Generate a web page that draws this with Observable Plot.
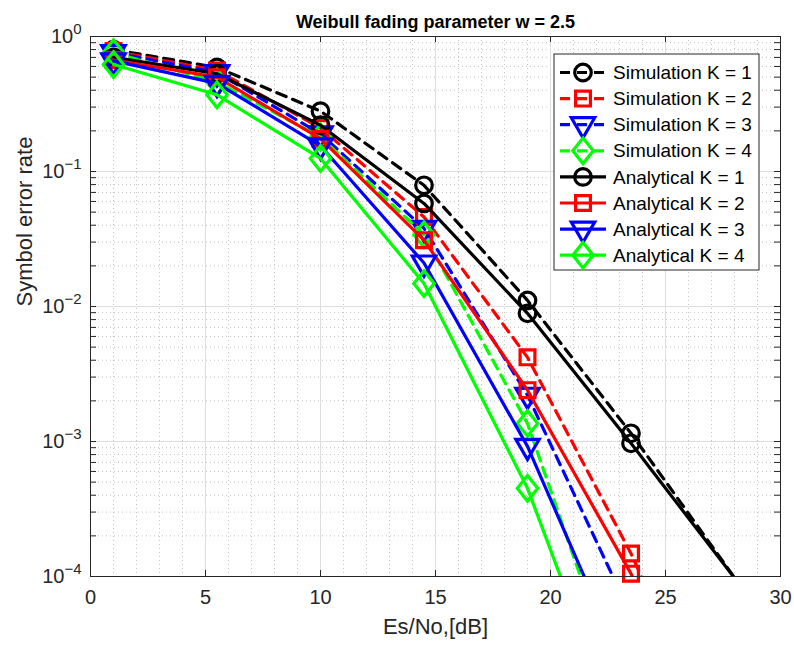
<!DOCTYPE html>
<html><head><meta charset="utf-8">
<script src="https://cdn.jsdelivr.net/npm/d3@7"></script>
<script src="https://cdn.jsdelivr.net/npm/@observablehq/plot@0.6"></script>
<style>body{margin:0;background:#fff;} #chart svg{display:block;}</style>
</head><body><div id="chart"></div>
<script>
// ---- data ----
const snr = [1, 5.5, 10, 14.5, 19, 23.5, 28];
const simK1 = [0.80, 0.59, 0.28, 0.079, 0.0111, 0.00115, 0.000098];
const simK2 = [0.78, 0.56, 0.21, 0.046, 0.0042, 0.000148, 0.000003];
const simK3 = [0.76, 0.54, 0.19, 0.038, 0.0022, 0.000052, 0.0000008];
const simK4 = [0.76, 0.46, 0.18, 0.034, 0.00136, 0.0000083, 0.0000001];
const anaK1 = [0.70, 0.53, 0.22, 0.058, 0.0089, 0.00097, 0.0000975];
const anaK2 = [0.67, 0.50, 0.175, 0.031, 0.0024, 0.000105, 0.000002];
const anaK3 = [0.66, 0.45, 0.155, 0.021, 0.00092, 0.000016, 0.0000003];
const anaK4 = [0.62, 0.37, 0.125, 0.0148, 0.00045, 0.000004, 0.00000003];
const seriesNames = ["Simulation K = 1","Simulation K = 2","Simulation K = 3","Simulation K = 4",
                     "Analytical K = 1","Analytical K = 2","Analytical K = 3","Analytical K = 4"];
const xTicks = [0, 5, 10, 15, 20, 25, 30];
const yTicks = [1e-4, 1e-3, 1e-2, 1e-1, 1];
const titleText = "Weibull fading parameter w = 2.5";
const xLabel = "Es/No,[dB]";
const yLabel = "Symbol error rate";

// ---- styling ----
const colors = ["#000000", "#ff0000", "#0000ff", "#00ff00"];
const sym = (pts) => ({draw(ctx, size) { const k = Math.sqrt(size / Math.PI);
  ctx.moveTo(pts[0][0]*k, pts[0][1]*k); for (let i = 1; i < pts.length; i++) ctx.lineTo(pts[i][0]*k, pts[i][1]*k); ctx.closePath(); }});
const symCircle = {draw(ctx, size) { const k = Math.sqrt(size / Math.PI), r = 8.3*k; ctx.moveTo(r, 0); ctx.arc(0, 0, r, 0, 2*Math.PI); }};
const symSquare = sym([[-7.4,-7.4],[7.4,-7.4],[7.4,7.4],[-7.4,7.4]]);
const symTri = sym([[-11.7,-7],[11.7,-7],[0,13.2]]);
const symDiam = sym([[0,-12.8],[10.2,0],[0,12.8],[-10.2,0]]);
const symbols = [symCircle, symSquare, symTri, symDiam];
const allVals = [simK1, simK2, simK3, simK4, anaK1, anaK2, anaK3, anaK4];
const series = allVals.map((vals, i) => ({
  name: seriesNames[i], color: colors[i % 4], symbol: symbols[i % 4], dash: i < 4 ? "10,7" : null,
  rows: snr.map((x, j) => ({x, y: vals[j]}))
}));

const W = 794, H = 649, mL = 90, mR = 14, mT = 36, mB = 73;
const fw = W - mL - mR, fh = H - mT - mB;
const minorY = []; for (let e = -4; e < 0; e++) for (let m = 2; m <= 9; m++) minorY.push(m * 10 ** e);
const minorX = d3.range(0, 31).filter(v => v % 5 !== 0);
const axisColor = "#262626";
const tickLen = 6;
const lw3 = 3.2;

const marks = [
  Plot.ruleX(minorX, {stroke: "#c4c4c4", strokeDasharray: "1,3"}),
  Plot.ruleY(minorY, {stroke: "#c4c4c4", strokeDasharray: "1,3"}),
  Plot.ruleX(xTicks, {stroke: "#dedede"}),
  Plot.ruleY(yTicks, {stroke: "#dedede"}),
];
for (const s of series) {
  marks.push(Plot.line(s.rows, {x: "x", y: "y", stroke: s.color, strokeWidth: lw3, strokeDasharray: s.dash, clip: true}));
  marks.push(Plot.dot(s.rows.filter(d => d.y >= 1e-4 && d.y <= 1), {x: "x", y: "y", symbol: s.symbol, r: 1, stroke: s.color, strokeWidth: lw3, fill: "none"}));
}
marks.push(
  Plot.frame({stroke: axisColor}),
  Plot.tickX(xTicks, {stroke: axisColor, insetTop: fh - tickLen}),
  Plot.tickX(xTicks, {stroke: axisColor, insetBottom: fh - tickLen}),
  Plot.tickY(yTicks.concat(minorY), {stroke: axisColor, insetRight: fw - tickLen}),
  Plot.tickY(yTicks.concat(minorY), {stroke: axisColor, insetLeft: fw - tickLen}),
  Plot.axisX({ticks: xTicks, tickSize: 0, tickPadding: 13, fontSize: 20, label: null, tickFormat: d => String(d), fill: axisColor}),
  Plot.axisY({ticks: yTicks, tickSize: 0, tickPadding: 9, fontSize: 20, label: null, tickFormat: d => "10^" + Math.round(Math.log10(d)), fill: axisColor}),
  Plot.text([xLabel], {frameAnchor: "bottom", dy: 57, fontSize: 22, fill: axisColor}),
  Plot.text([yLabel], {frameAnchor: "left", dx: -66, rotate: -90, fontSize: 22, fill: axisColor}),
  Plot.text([titleText], {frameAnchor: "top", dy: -21, fontSize: 18, fontWeight: "bold", fill: "#000"})
);

const plot = Plot.plot({
  width: W, height: H, marginLeft: mL, marginRight: mR, marginTop: mT, marginBottom: mB,
  style: {fontFamily: "'Liberation Sans', Arial, Helvetica, sans-serif", fontSize: "19px", background: "#fff", overflow: "visible"},
  x: {domain: [0, 30]},
  y: {type: "log", domain: [1e-4, 1]},
  marks
});
document.getElementById("chart").appendChild(plot);

// superscript exponents on y tick labels
d3.select(plot).selectAll('g[aria-label="y-axis tick label"] text').each(function() {
  const t = d3.select(this); const s = t.text(); const exp = s.split("^")[1];
  t.text(null); t.append("tspan").text("10");
  t.append("tspan").attr("dy", "-0.6em").attr("font-size", "0.75em").text(exp.replace("-", "\u2212"));
});

// legend
const lg = d3.select(plot).append("g").attr("font-size", 19).attr("text-anchor", "start");
const lx = 554, ly = 54, lw = 205, lh = 216;
lg.append("rect").attr("x", lx).attr("y", ly).attr("width", lw).attr("height", lh).attr("fill", "#fff").attr("stroke", axisColor);
series.forEach((s, i) => {
  const yy = 72.5 + i * 26.1;
  lg.append("line").attr("x1", 560).attr("x2", 606).attr("y1", yy).attr("y2", yy)
    .attr("stroke", s.color).attr("stroke-width", lw3).attr("stroke-dasharray", s.dash);
  lg.append("path").attr("d", d3.symbol(s.symbol, Math.PI)()).attr("transform", `translate(583,${yy})`)
    .attr("fill", "none").attr("stroke", s.color).attr("stroke-width", lw3);
  lg.append("text").attr("x", 613).attr("y", yy).attr("dy", "0.35em").attr("fill", "#000").text(s.name);
});
</script></body></html>
